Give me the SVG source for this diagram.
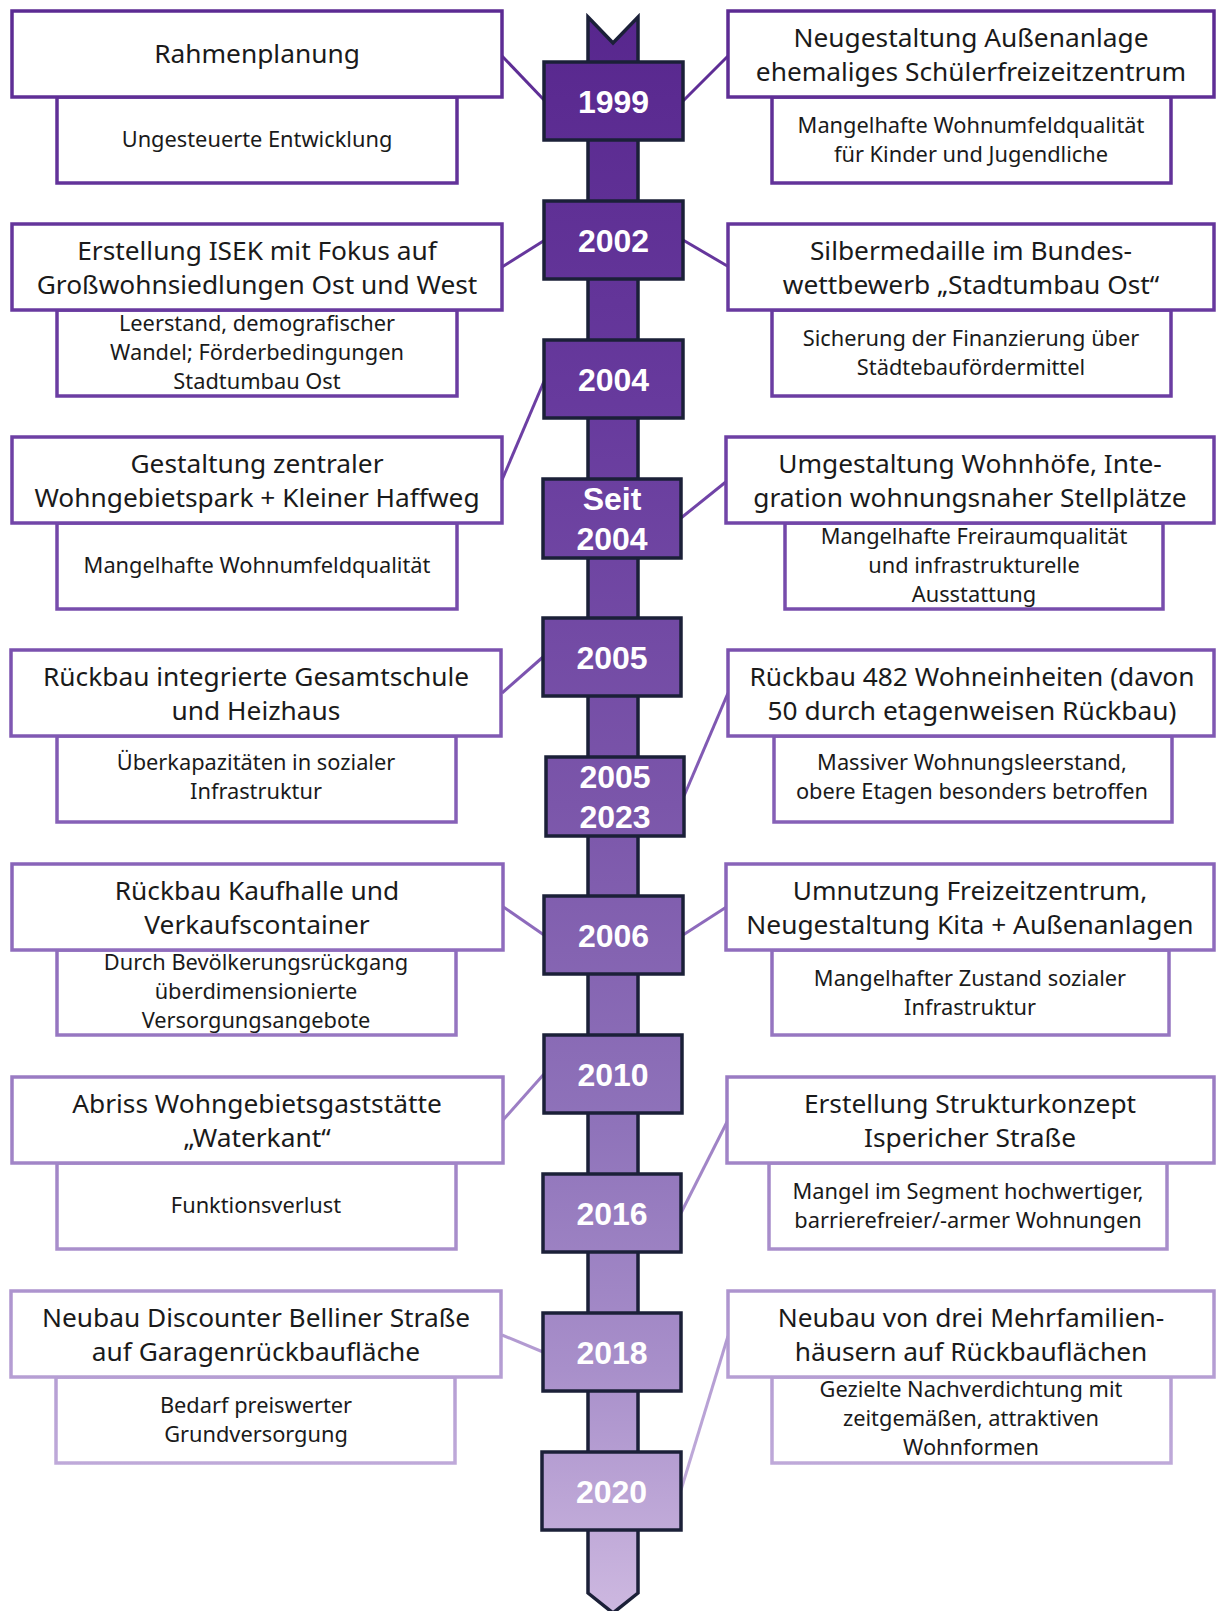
<svg xmlns="http://www.w3.org/2000/svg" width="1216" height="1611" viewBox="0 0 1216 1611">
<defs>
<linearGradient id="gFill" gradientUnits="userSpaceOnUse" x1="0" y1="0" x2="0" y2="1611">
<stop offset="0" stop-color="#57268d"/>
<stop offset="0.25" stop-color="#673a9d"/>
<stop offset="0.5" stop-color="#7b56aa"/>
<stop offset="0.7" stop-color="#8f73ba"/>
<stop offset="0.85" stop-color="#a88fca"/>
<stop offset="1" stop-color="#cdb8e0"/>
</linearGradient>
<linearGradient id="gLine" gradientUnits="userSpaceOnUse" x1="0" y1="0" x2="0" y2="1611">
<stop offset="0" stop-color="#5b2a92"/>
<stop offset="0.3" stop-color="#6f42a6"/>
<stop offset="0.55" stop-color="#8a66ba"/>
<stop offset="0.75" stop-color="#a58ac9"/>
<stop offset="1" stop-color="#cdbbe2"/>
</linearGradient>
</defs>
<style>
.box{fill:#ffffff;stroke:url(#gLine);stroke-width:3.5}
.con{stroke:url(#gLine);stroke-width:3;fill:none}
.yr{fill:url(#gFill);stroke:#1b2038;stroke-width:3.5}
.spine{fill:url(#gFill);stroke:#1b2038;stroke-width:3.5;stroke-linejoin:miter}
.t{font-family:"Noto Sans","Open Sans",sans-serif;font-size:26.3px;fill:#1a1a1a;text-anchor:middle}
.s{font-family:"Noto Sans","Open Sans",sans-serif;font-size:21.8px;fill:#1a1a1a;text-anchor:middle}
.y{font-family:"Liberation Sans",Arial,sans-serif;font-size:32px;font-weight:bold;fill:#ffffff;text-anchor:middle}
</style>

<g id="spine">
<path class="spine" d="M588,17 L613,43 L638,17 L638,1593 L613,1613 L588,1593 Z"/>
</g>

<g id="connectors">
<line class="con" x1="502" y1="56" x2="545" y2="101"/>
<line class="con" x1="683" y1="101" x2="729" y2="55"/>
<line class="con" x1="502" y1="267" x2="545" y2="240"/>
<line class="con" x1="683" y1="240" x2="729" y2="267"/>
<line class="con" x1="545" y1="379" x2="502" y2="480"/>
<line class="con" x1="681" y1="518" x2="727" y2="481"/>
<line class="con" x1="543" y1="657" x2="502" y2="693"/>
<line class="con" x1="684" y1="796" x2="728" y2="693"/>
<line class="con" x1="502" y1="906" x2="544" y2="935"/>
<line class="con" x1="683" y1="935" x2="728" y2="906"/>
<line class="con" x1="544" y1="1074" x2="503" y2="1120"/>
<line class="con" x1="681" y1="1213" x2="728" y2="1120"/>
<line class="con" x1="502" y1="1335" x2="543" y2="1352"/>
<line class="con" x1="681" y1="1490" x2="728" y2="1336"/>
</g>

<g id="y1999"><rect class="yr" x="544" y="62" width="139" height="78"/><text class="y" x="613.5" y="112.5">1999</text></g>
<g id="y2002"><rect class="yr" x="544" y="201" width="139" height="78"/><text class="y" x="613.5" y="251.5">2002</text></g>
<g id="y2004"><rect class="yr" x="544" y="340" width="139" height="78"/><text class="y" x="613.5" y="390.5">2004</text></g>
<g id="ySeit2004"><rect class="yr" x="543" y="479" width="138" height="79"/><text class="y" x="612" y="509.5">Seit</text><text class="y" x="612" y="549.5">2004</text></g>
<g id="y2005"><rect class="yr" x="543" y="618" width="138" height="78"/><text class="y" x="612" y="668.5">2005</text></g>
<g id="y2005_2023"><rect class="yr" x="546" y="757" width="138" height="79"/><text class="y" x="615" y="787.5">2005</text><text class="y" x="615" y="827.5">2023</text></g>
<g id="y2006"><rect class="yr" x="544" y="896" width="139" height="78"/><text class="y" x="613.5" y="946.5">2006</text></g>
<g id="y2010"><rect class="yr" x="544" y="1035" width="138" height="78"/><text class="y" x="613" y="1085.5">2010</text></g>
<g id="y2016"><rect class="yr" x="543" y="1174" width="138" height="78"/><text class="y" x="612" y="1224.5">2016</text></g>
<g id="y2018"><rect class="yr" x="543" y="1313" width="138" height="78"/><text class="y" x="612" y="1363.5">2018</text></g>
<g id="y2020"><rect class="yr" x="542" y="1452" width="139" height="78"/><text class="y" x="611.5" y="1502.5">2020</text></g>

<!-- Row 1 -->
<g id="r1L">
<rect class="box" x="57" y="97" width="400" height="86"/>
<rect class="box" x="12" y="11" width="490" height="86"/>
<text class="t" x="257" y="63">Rahmenplanung</text>
<text class="s" x="257" y="147">Ungesteuerte Entwicklung</text>
</g>
<g id="r1R">
<rect class="box" x="772" y="97" width="399" height="86"/>
<rect class="box" x="728" y="11" width="486" height="86"/>
<text class="t" x="971" y="47">Neugestaltung Außenanlage</text>
<text class="t" x="971" y="81">ehemaliges Schülerfreizeitzentrum</text>
<text class="s" x="971" y="133">Mangelhafte Wohnumfeldqualität</text>
<text class="s" x="971" y="162">für Kinder und Jugendliche</text>
</g>

<!-- Row 2 -->
<g id="r2L">
<rect class="box" x="57" y="310" width="400" height="86"/>
<rect class="box" x="12" y="224" width="490" height="86"/>
<text class="t" x="257" y="260">Erstellung ISEK mit Fokus auf</text>
<text class="t" x="257" y="294">Großwohnsiedlungen Ost und West</text>
<text class="s" x="257" y="331">Leerstand, demografischer</text>
<text class="s" x="257" y="360">Wandel; Förderbedingungen</text>
<text class="s" x="257" y="389">Stadtumbau Ost</text>
</g>
<g id="r2R">
<rect class="box" x="772" y="310" width="399" height="86"/>
<rect class="box" x="728" y="224" width="486" height="86"/>
<text class="t" x="971" y="260">Silbermedaille im Bundes-</text>
<text class="t" x="971" y="294">wettbewerb „Stadtumbau Ost“</text>
<text class="s" x="971" y="346">Sicherung der Finanzierung über</text>
<text class="s" x="971" y="375">Städtebaufördermittel</text>
</g>

<!-- Row 3 -->
<g id="r3L">
<rect class="box" x="57" y="523" width="400" height="86"/>
<rect class="box" x="12" y="437" width="490" height="86"/>
<text class="t" x="257" y="473">Gestaltung zentraler</text>
<text class="t" x="257" y="507">Wohngebietspark + Kleiner Haffweg</text>
<text class="s" x="257" y="573">Mangelhafte Wohnumfeldqualität</text>
</g>
<g id="r3R">
<rect class="box" x="785" y="523" width="378" height="86"/>
<rect class="box" x="726" y="437" width="488" height="86"/>
<text class="t" x="970" y="473">Umgestaltung Wohnhöfe, Inte-</text>
<text class="t" x="970" y="507">gration wohnungsnaher Stellplätze</text>
<text class="s" x="974" y="544">Mangelhafte Freiraumqualität</text>
<text class="s" x="974" y="573">und infrastrukturelle</text>
<text class="s" x="974" y="602">Ausstattung</text>
</g>

<!-- Row 4 -->
<g id="r4L">
<rect class="box" x="57" y="736" width="399" height="86"/>
<rect class="box" x="11" y="650" width="490" height="86"/>
<text class="t" x="256" y="686">Rückbau integrierte Gesamtschule</text>
<text class="t" x="256" y="720">und Heizhaus</text>
<text class="s" x="256" y="770">Überkapazitäten in sozialer</text>
<text class="s" x="256" y="799">Infrastruktur</text>
</g>
<g id="r4R">
<rect class="box" x="774" y="736" width="398" height="86"/>
<rect class="box" x="728" y="650" width="486" height="86"/>
<text class="t" x="972" y="686">Rückbau 482 Wohneinheiten (davon</text>
<text class="t" x="972" y="720">50 durch etagenweisen Rückbau)</text>
<text class="s" x="972" y="770">Massiver Wohnungsleerstand,</text>
<text class="s" x="972" y="799">obere Etagen besonders betroffen</text>
</g>

<!-- Row 5 -->
<g id="r5L">
<rect class="box" x="57" y="950" width="399" height="85"/>
<rect class="box" x="12" y="864" width="491" height="86"/>
<text class="t" x="257" y="900">Rückbau Kaufhalle und</text>
<text class="t" x="257" y="934">Verkaufscontainer</text>
<text class="s" x="256" y="970">Durch Bevölkerungsrückgang</text>
<text class="s" x="256" y="999">überdimensionierte</text>
<text class="s" x="256" y="1028">Versorgungsangebote</text>
</g>
<g id="r5R">
<rect class="box" x="772" y="950" width="397" height="85"/>
<rect class="box" x="726" y="864" width="488" height="86"/>
<text class="t" x="970" y="900">Umnutzung Freizeitzentrum,</text>
<text class="t" x="970" y="934">Neugestaltung Kita + Außenanlagen</text>
<text class="s" x="970" y="986">Mangelhafter Zustand sozialer</text>
<text class="s" x="970" y="1015">Infrastruktur</text>
</g>

<!-- Row 6 -->
<g id="r6L">
<rect class="box" x="57" y="1163" width="399" height="86"/>
<rect class="box" x="12" y="1077" width="491" height="86"/>
<text class="t" x="257" y="1113">Abriss Wohngebietsgaststätte</text>
<text class="t" x="257" y="1147">„Waterkant“</text>
<text class="s" x="256" y="1213">Funktionsverlust</text>
</g>
<g id="r6R">
<rect class="box" x="769" y="1163" width="398" height="86"/>
<rect class="box" x="727" y="1077" width="487" height="86"/>
<text class="t" x="970" y="1113">Erstellung Strukturkonzept</text>
<text class="t" x="970" y="1147">Ispericher Straße</text>
<text class="s" x="968" y="1199">Mangel im Segment hochwertiger,</text>
<text class="s" x="968" y="1228">barrierefreier/-armer Wohnungen</text>
</g>

<!-- Row 7 -->
<g id="r7L">
<rect class="box" x="56" y="1377" width="399" height="86"/>
<rect class="box" x="11" y="1291" width="490" height="86"/>
<text class="t" x="256" y="1327">Neubau Discounter Belliner Straße</text>
<text class="t" x="256" y="1361">auf Garagenrückbaufläche</text>
<text class="s" x="256" y="1413">Bedarf preiswerter</text>
<text class="s" x="256" y="1442">Grundversorgung</text>
</g>
<g id="r7R">
<rect class="box" x="772" y="1377" width="399" height="86"/>
<rect class="box" x="728" y="1291" width="486" height="86"/>
<text class="t" x="971" y="1327">Neubau von drei Mehrfamilien-</text>
<text class="t" x="971" y="1361">häusern auf Rückbauflächen</text>
<text class="s" x="971" y="1397">Gezielte Nachverdichtung mit</text>
<text class="s" x="971" y="1426">zeitgemäßen, attraktiven</text>
<text class="s" x="971" y="1455">Wohnformen</text>
</g>
</svg>
